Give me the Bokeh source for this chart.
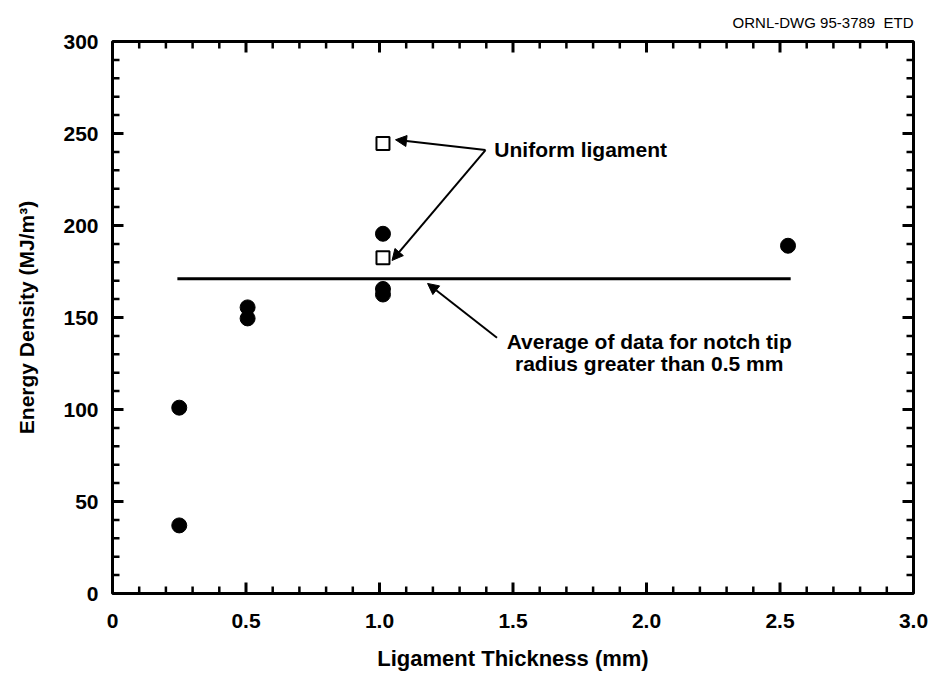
from bokeh.plotting import figure
from bokeh.models import LinearAxis, FixedTicker, Arrow, NormalHead, Label, Range1d
from bokeh.embed import file_html
from bokeh.resources import INLINE

# Ligament thickness (mm) vs energy density (MJ/m^3)
notch_x = [0.25, 0.25, 0.506, 0.506, 1.013, 1.013, 1.013, 2.53]
notch_y = [37, 101, 155.5, 149.5, 195.5, 165.5, 162.5, 189]

uniform_x = [1.013, 1.013]
uniform_y = [244.5, 182.5]

# average for notch tip radius > 0.5 mm, drawn across the data span
avg_value = 171
avg_span = [0.243, 2.54]

x_major = [0, 0.5, 1.0, 1.5, 2.0, 2.5, 3.0]
x_labels = ["0", "0.5", "1.0", "1.5", "2.0", "2.5", "3.0"]
y_major = [0, 50, 100, 150, 200, 250, 300]
y_labels = ["0", "50", "100", "150", "200", "250", "300"]

X0, X1, Y0, Y1 = 0, 3, 0, 300
W, H = 936, 675
BL, BR, BT, BB = 112, 23, 41, 82
FONT = "Liberation Sans"

p = figure(width=W, height=H, x_range=Range1d(X0, X1), y_range=Range1d(Y0, Y1),
           output_backend="svg", toolbar_location=None,
           x_axis_location=None, y_axis_location=None,
           min_border_left=BL, min_border_right=BR,
           min_border_top=BT, min_border_bottom=BB)
p.background_fill_color = "white"
p.border_fill_color = "white"
p.grid.grid_line_color = None
p.outline_line_color = "black"
p.outline_line_width = 3

# header
p.title.text = "ORNL-DWG 95-3789\u00a0 ETD"
p.title.align = "right"
p.title.text_font = FONT
p.title.text_font_style = "normal"
p.title.text_font_size = "15px"
p.title.text_color = "black"
p.title.standoff = 21

x_minor = [round(i * 0.1, 1) for i in range(31) if i % 5]
y_minor = [i * 10 for i in range(31) if i % 5]


def make_axis(major, labels, axis_label, font_size):
    ax = LinearAxis(ticker=FixedTicker(ticks=major, minor_ticks=[]))
    ax.major_label_overrides = {v: t for v, t in zip(major, labels)}
    ax.axis_line_color = None
    ax.major_tick_in = 0
    ax.major_tick_out = 0
    ax.minor_tick_in = 0
    ax.minor_tick_out = 0
    ax.major_label_text_font = FONT
    ax.major_label_text_font_style = "bold"
    ax.major_label_text_font_size = "21px"
    ax.major_label_text_color = "black"
    ax.axis_label = axis_label
    ax.axis_label_text_font = FONT
    ax.axis_label_text_font_style = "bold"
    ax.axis_label_text_font_size = font_size
    ax.axis_label_text_color = "black"
    return ax


bottom = make_axis(x_major, x_labels, "Ligament Thickness (mm)", "22px")
bottom.major_label_standoff = 20
bottom.axis_label_standoff = 15
left = make_axis(y_major, y_labels, "Energy Density (MJ/m\u00b3)", "21px")
left.major_label_standoff = 14
left.axis_label_standoff = 22
p.add_layout(bottom, "below")
p.add_layout(left, "left")

# inward tick marks on all four sides; pixel lengths converted to data units
px_x = (X1 - X0) / (W - BL - BR)
px_y = (Y1 - Y0) / (H - BT - BB)
for xs, length, lw in ((x_major, 11, 3), (x_minor, 7, 2.5)):
    d = length * px_y
    p.segment(x0=xs, y0=[Y0] * len(xs), x1=xs, y1=[Y0 + d] * len(xs),
              line_color="black", line_width=lw)
    p.segment(x0=xs, y0=[Y1] * len(xs), x1=xs, y1=[Y1 - d] * len(xs),
              line_color="black", line_width=lw)
for ys, length, lw in ((y_major, 11, 3), (y_minor, 7, 2.5)):
    d = length * px_x
    p.segment(x0=[X0] * len(ys), y0=ys, x1=[X0 + d] * len(ys), y1=ys,
              line_color="black", line_width=lw)
    p.segment(x0=[X1] * len(ys), y0=ys, x1=[X1 - d] * len(ys), y1=ys,
              line_color="black", line_width=lw)

# average line
p.line(x=avg_span, y=[avg_value, avg_value], line_color="black", line_width=3)

# data points
p.scatter(x=notch_x, y=notch_y, marker="circle", size=15,
          fill_color="black", line_color="black")
p.scatter(x=uniform_x, y=uniform_y, marker="square", size=13,
          fill_color="white", line_color="black", line_width=2)


def arrow(x0, y0, x1, y1):
    p.add_layout(Arrow(end=NormalHead(size=11, fill_color="black", line_color="black"),
                       x_start=x0, y_start=y0, x_end=x1, y_end=y1,
                       line_color="black", line_width=2))


arrow(1.397, 241, 1.06, 246.6)
arrow(1.397, 241, 1.047, 181)
arrow(1.44, 139, 1.18, 168.5)


def label(x, y, text, align="left"):
    p.add_layout(Label(x=x, y=y, text=text, text_align=align, text_baseline="middle",
                       text_font=FONT, text_font_style="bold", text_font_size="21px",
                       text_color="black"))


label(1.43, 241.5, "Uniform ligament")
label(2.01, 137, "Average of data for notch tip", align="center")
label(2.01, 125, "radius greater than 0.5 mm", align="center")

open("out.html", "w").write(file_html(p, INLINE))
